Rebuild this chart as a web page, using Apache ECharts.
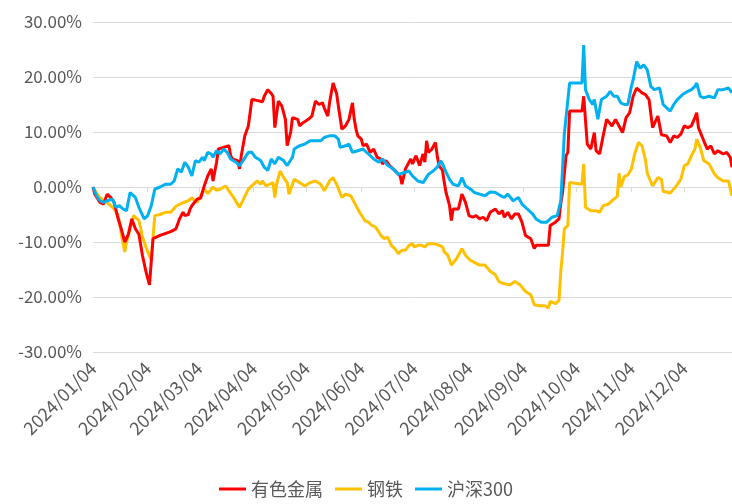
<!DOCTYPE html>
<html>
<head>
<meta charset="utf-8">
<script src="https://cdn.jsdelivr.net/npm/echarts@6/dist/echarts.min.js"></script>
<style>
  body {margin:0;padding:0;overflow:hidden;background:#fff;}
  #main {width:732px;height:504px;}
</style>
</head>
<body>
<div id="main"></div>
<script>
// day offsets are counted from 2024/01/04
const startDay = [2024, 0, 4];
const lastDay = 362;
const tickDays = [0, 31, 60, 91, 121, 152, 182, 213, 244, 274, 305, 335];

const seriesNames = ['有色金属', '钢铁', '沪深300'];
const seriesColors = ['#ff0000', '#ffc000', '#00b0f0'];

// 有色金属
const redDays = [0,1,4,6,8,10,12,14,16,18,20,22,24,26,28,30,32,34,38,44,47,49,51,52,54,55,56,59,61,63,65,67,68,70,71,74,77,78,79,82,83,84,86,88,90,92,96,97,99,101,102,103,105,107,109,110,112,113,116,117,119,122,124,126,128,130,131,133,134,136,138,139,141,143,145,147,148,149,150,152,153,155,157,159,161,163,164,166,168,170,172,174,175,177,180,181,183,185,187,188,189,190,192,194,195,196,198,199,200,202,203,204,207,208,209,211,213,215,217,219,221,223,225,228,230,232,233,235,237,239,241,243,245,248,250,251,253,255,258,259,262,264,265,266,268,269,270,273,277,278,280,282,283,284,285,287,289,291,294,296,298,300,302,304,306,308,311,313,315,317,318,320,322,325,327,329,331,333,335,337,339,341,342,343,346,348,350,352,354,355,357,359,360,361,362];
const redValues = [0,-1.3,-2.8,-3.1,-1.3,-1.9,-2.8,-5.5,-7.6,-10,-8.6,-5.8,-7.6,-8.6,-12.4,-15.4,-17.8,-9.4,-8.8,-8.1,-7.6,-5.8,-4.6,-5.2,-5,-4,-3.4,-2.2,-2,0.2,2,3.3,1.1,4.5,6.9,7.2,7.5,5.7,5.1,4.8,3.3,5.7,9.3,11.1,15.9,15.8,15.5,16.5,17.7,17,16.5,10.8,15.6,14.7,12.3,7.5,10,12.6,12.3,11.1,11.7,12.3,12.9,15.6,15,15.3,14.4,12.9,15.3,18.9,17,14.7,10.5,11.1,12.3,15.3,12.3,10.5,9.3,8.7,7.5,7.8,6.3,6.9,5.4,5.1,4.2,4.8,3.9,3.3,2.7,2,0.5,3.3,5.1,4.2,5.7,3.9,6,4.5,8.4,6.3,6.9,8.1,5.7,3.9,3,0.8,-1,-3.4,-6.1,-4,-4,-4,-1.3,-2.8,-5.2,-5.5,-5.2,-5.8,-5.5,-6.1,-4.6,-4,-4.9,-4.3,-5.5,-4.6,-5.8,-4.9,-4.9,-6.4,-8.8,-9.4,-11.2,-10.6,-10.6,-10.6,-10.6,-7,-6.4,-5.8,-3,-1,5.7,6.3,13.8,13.8,13.8,16.5,7.8,6.9,6.9,9.9,6.6,6,9.3,12.3,11.1,12.3,11.1,9.9,12.6,13.5,16.5,18,17.1,16.8,15.9,10.8,10.8,12.9,9.5,9.3,8.1,9.3,9,9.6,11.1,10.8,11.1,12.6,13.5,10.8,8.4,6.9,7.5,6,6.6,6.9,6,6.3,6,5.4,3.6];

// 钢铁
const yellowDays = [0,3,6,8,10,12,14,15,16,18,19,21,23,24,26,27,28,31,33,35,38,41,44,47,50,54,56,59,61,63,65,68,70,72,75,77,79,80,83,85,88,90,93,95,96,98,100,102,103,104,106,108,110,111,113,114,117,120,123,126,129,131,134,136,138,141,143,146,148,151,154,156,158,160,162,163,165,167,169,171,173,175,177,179,181,182,184,186,188,190,193,196,198,199,201,203,206,209,211,214,216,219,222,225,228,230,232,233,236,239,242,245,248,250,253,256,258,259,262,264,265,266,267,269,270,277,278,279,282,283,285,287,289,292,294,297,298,299,301,303,305,307,309,311,313,314,317,318,320,322,323,325,327,330,333,335,337,339,341,342,344,346,349,352,354,357,360,361,362];
const yellowValues = [0,-1.6,-2.5,-2.8,-3.4,-4,-5,-6.4,-8.5,-11.8,-10,-7.6,-5.2,-5.5,-6.1,-7.5,-9.1,-11.8,-13.3,-5.2,-5,-4.6,-4.6,-3.5,-3,-2.5,-2,-2.8,-1.6,-0.4,-1.2,0,-0.6,-0.4,0.2,-0.7,-1.6,-1.9,-3.7,-2.4,-0.4,0.2,1.1,0.5,1.1,0.2,0.5,0.8,-1.9,0.5,2.9,1.7,0.8,-1.3,0.5,1.4,0.8,0.2,0.8,1.1,0.5,-0.7,1.1,1.7,0.5,-1.9,-1.3,-1.6,-2.8,-4.6,-6.1,-6.4,-7,-7.3,-8.2,-8.8,-9.4,-9.1,-10.6,-11.2,-12.1,-11.5,-11.5,-10.6,-10.3,-10.9,-10.6,-10.6,-10.9,-10.3,-10.3,-10.6,-10.9,-11.8,-12.4,-14.2,-13,-11.2,-12.4,-13.4,-13.7,-14.2,-14.2,-15.3,-16,-17.2,-17.5,-17.5,-17.8,-17.2,-17.8,-19,-19.6,-21.4,-21.6,-21.6,-22,-20.8,-21.2,-20.6,-15.4,-12,-7.6,-7,0.8,0.5,4.2,-3.7,-4.3,-4.6,-4.3,-4.6,-3.4,-3.1,-2.5,-1.7,2.5,0,1.9,2.2,3.3,6.2,8.1,7.5,4.9,2.5,0.2,0.5,1.7,1.4,-0.8,-0.9,-1.1,0,1.4,3.9,4.2,5.7,6.9,8.7,7.2,4.8,4.2,2.4,1.7,1.1,1.1,0.8,-1.6];

// 沪深300
const blueDays = [0,2,4,6,8,11,13,15,17,19,21,24,26,29,31,33,35,38,41,44,46,48,50,52,54,56,58,60,62,63,65,67,68,70,72,74,76,78,79,81,83,85,88,90,92,95,97,99,101,103,105,108,110,113,114,117,120,123,126,129,131,134,137,139,140,143,145,147,150,153,156,159,162,164,167,170,173,176,179,181,184,187,190,193,195,197,198,200,202,204,207,209,211,214,216,219,222,225,228,231,233,235,238,241,243,246,249,251,254,257,260,263,265,266,267,268,270,277,278,279,281,283,284,286,288,291,293,295,297,299,301,303,305,306,308,310,312,314,316,318,319,321,323,325,327,329,331,334,337,339,341,342,344,346,349,352,354,357,360,361,362];
const blueValues = [0,-1.6,-2.5,-2.8,-2.5,-2.2,-3.7,-3.4,-4,-4.3,-1,-1.9,-3.7,-5.8,-5.2,-3.4,-0.4,0,0.5,0.5,1.1,3.3,2.7,4.5,3.6,2,4.8,4.5,5.4,4.8,6.3,6,5.4,6.6,6,6.9,6.3,5.1,4.8,4.5,3.9,4.8,6.3,6.3,5.4,4.8,3.6,3,5.1,4.2,5.4,4.8,3.9,5.4,6.9,7.5,7.8,8.4,8.4,8.4,9,9.3,9.3,8.7,7.2,7.5,7.8,6.3,6.6,6.9,6,5.1,4.5,5.1,3.9,3.3,2.3,2.6,2.9,2,1.1,0.8,2.3,3,3.6,4.8,4.2,2.7,1.4,0.5,0.2,1.7,0.2,-0.4,-1,-1.3,-1.6,-0.9,-1,-1.6,-1.9,-1.3,-2.5,-1.9,-3.1,-4,-4.9,-5.8,-6.4,-6.4,-5.5,-5.2,-2.5,3.3,9.6,9.9,18.9,18.9,25.8,17.7,16,15,15.9,12.3,15.9,16.5,17.4,16.5,16.5,15.3,15,15,18.3,19.5,22.8,21.6,22.2,21.3,18.3,17.7,17.4,18,15,14.4,13.8,15,15.9,16.8,17.4,17.7,18.3,18.9,16.5,16.2,16.5,16.2,17.7,17.7,18,17.9,17.1];

const yMin = -30, yMax = 30, yStep = 10;

function pad(n) { return (n < 10 ? '0' : '') + n; }
function dayLabel(v) {
    let d = new Date(startDay[0], startDay[1], startDay[2] + Math.round(v));
    return d.getFullYear() + '/' + pad(d.getMonth() + 1) + '/' + pad(d.getDate());
}
function pairs(days, vals) {
    return days.map((d, i) => [d, vals[i]]);
}

const font = '"Noto Sans CJK SC", "Microsoft YaHei", sans-serif';

let myChart = echarts.init(document.getElementById('main'));
let option = {
    animation: false,
    color: seriesColors,
    grid: {left: 93, right: 0, top: 22, bottom: 152},
    legend: {
        data: seriesNames,
        bottom: 1,
        left: 'center',
        icon: 'rect',
        itemWidth: 27,
        itemHeight: 3,
        itemGap: 12,
        textStyle: {color: '#595959', fontSize: 18, fontFamily: font}
    },
    xAxis: [{
        type: 'value',
        min: 0,
        max: lastDay,
        axisLine: {show: false, onZero: false},
        axisTick: {show: false},
        splitLine: {show: false},
        axisLabel: {
            rotate: 45,
            margin: 13,
            customValues: tickDays,
            formatter: dayLabel,
            color: '#595959',
            fontSize: 18,
            fontFamily: font,
            hideOverlap: false
        }
    }, {
        type: 'value',
        position: 'bottom',
        min: 0,
        max: lastDay,
        axisLine: {show: true, onZero: true, lineStyle: {color: '#d9d9d9', width: 1}},
        axisTick: {show: true, customValues: tickDays, length: 5, lineStyle: {color: '#d9d9d9'}},
        axisLabel: {show: false},
        splitLine: {show: false}
    }],
    yAxis: {
        type: 'value',
        min: yMin,
        max: yMax,
        interval: yStep,
        axisLine: {show: false},
        axisTick: {show: false},
        splitLine: {lineStyle: {color: '#d9d9d9', width: 1}},
        axisLabel: {
            margin: 11,
            color: '#595959',
            fontSize: 17,
            fontFamily: font,
            formatter: v => v.toFixed(2) + '%'
        }
    },
    series: [
        {name: seriesNames[0], type: 'line', showSymbol: false, lineStyle: {width: 3}, data: pairs(redDays, redValues), z: 3},
        {name: seriesNames[1], type: 'line', showSymbol: false, lineStyle: {width: 3}, data: pairs(yellowDays, yellowValues), z: 2},
        {name: seriesNames[2], type: 'line', showSymbol: false, lineStyle: {width: 3}, data: pairs(blueDays, blueValues), z: 4}
    ]
};
myChart.setOption(option);
window.onresize = myChart.resize;
</script>
</body>
</html>
